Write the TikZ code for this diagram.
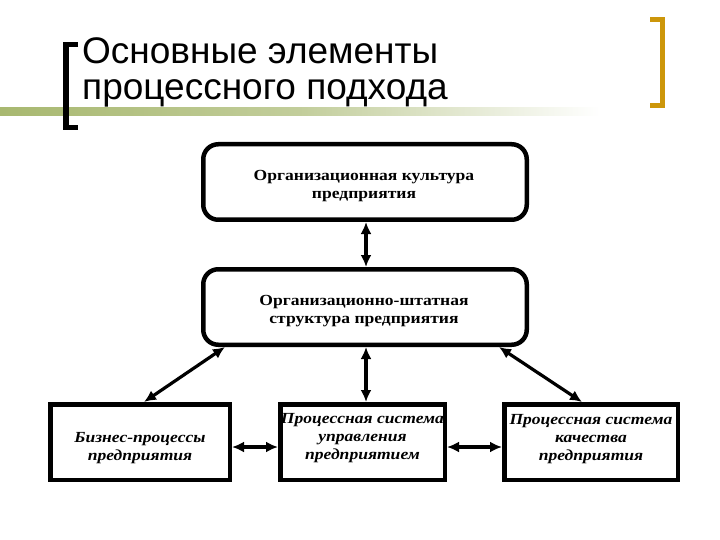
\documentclass[tikz,border=0pt]{standalone}
\usepackage{fontspec}
\setmainfont{Liberation Serif}
\newfontfamily\titlefont{Liberation Sans}
\newfontfamily\boxfont[FakeStretch=1.14]{Liberation Serif}
\usetikzlibrary{arrows.meta,calc}
\definecolor{gold}{RGB}{204,150,10}
\definecolor{olivebar}{RGB}{168,184,112}
\tikzset{
  rbox/.style={draw,line width=4.5pt,rounded corners=15pt,minimum width=323.5pt,minimum height=75.5pt,inner sep=0pt},
  sbox/.style={draw,line width=4.5pt,minimum height=75.5pt,inner sep=0pt},
  toptext/.style={align=center,font=\boxfont\fontsize{15.4}{17.5}\selectfont\bfseries},
  bottext/.style={align=center,font=\boxfont\fontsize{15.4}{18}\selectfont\bfseries\itshape},
  link/.style={line width=3.2pt,{Latex[length=12pt,width=11pt]}-{Latex[length=12pt,width=11pt]}},
  bracket/.style={line width=5.5pt}
}
\begin{document}
\begin{tikzpicture}[x=1pt,y=-1pt]
\useasboundingbox (0,0) rectangle (720,540);
% title decoration
\shade[left color=olivebar,right color=white,middle color=olivebar!70] (0,108) rectangle (600,116);
\draw[bracket,line cap=butt] (78,44.5) -- (66,44.5) -- (66,127.5) -- (78,127.5);
\draw[bracket,draw=gold] (650,19.5) -- (662.5,19.5) -- (662.5,105.5) -- (650,105.5);
\node[anchor=base west,inner sep=0pt,align=left,font=\titlefont\fontsize{37}{40}\selectfont] (title) at (82,64) {Основные элементы};
\node[anchor=base west,inner sep=0pt,align=left,font=\titlefont\fontsize{37}{40}\selectfont] (title2) at (82,100) {процессного подхода};
% boxes
\node[rbox] (cult) at (365,182) {};
\node[toptext] (cultt) at (364,186) {Организационная культура\\предприятия};
\node[rbox] (org) at (365,307) {};
\node[toptext] (orgt) at (364,311) {Организационно-штатная\\структура предприятия};
\node[sbox,minimum width=179.5pt] (bp) at (140,442) {};
\node[bottext] (bpt) at (140,448) {Бизнес-процессы\\предприятия};
\node[sbox,minimum width=164.5pt] (psu) at (362.5,442) {};
\node[bottext] (psut) at (362.5,438) {Процессная система\\управления\\предприятием};
\node[sbox,minimum width=173.5pt] (psk) at (591,442) {};
\node[bottext] (pskt) at (591,439) {Процессная система\\качества\\предприятия};
% connectors
\draw[link] ([xshift=1pt]cult.south) -- ([xshift=1pt]org.north);
\draw[link] ([xshift=1pt]org.south) -- ([xshift=1pt]org.south |- psu.north);
\draw[link] ([xshift=24pt]org.south west) -- ([xshift=-88pt]bp.north east);
\draw[link] ([xshift=-30pt]org.south east) -- ([xshift=80pt]psk.north west);
\draw[link] ([yshift=-5pt]bp.east) -- ([yshift=-5pt]psu.west);
\draw[link] ([yshift=-5pt]psu.east) -- ([yshift=-5pt]psk.west);
\end{tikzpicture}
\end{document}
